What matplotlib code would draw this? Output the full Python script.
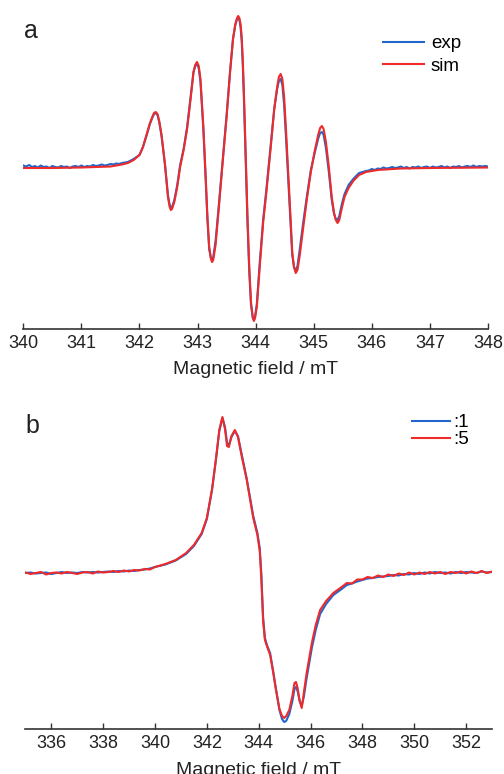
import numpy as np
import matplotlib
matplotlib.use("Agg")
from matplotlib import pyplot as plt

plt.rcParams['font.family'] = ['Liberation Sans', 'DejaVu Sans']

# ---- panel a (signal in arbitrary units, baseline = 0) ----
a_core_field = [341.8, 341.9, 342.0, 342.06, 342.12, 342.18, 342.22, 342.25, 342.28, 342.31,
                342.34, 342.38, 342.44, 342.49, 342.52, 342.54, 342.56, 342.6, 342.65, 342.7,
                342.76, 342.82, 342.88, 342.93, 342.96, 342.99, 343.02, 343.05, 343.1, 343.14,
                343.17, 343.2, 343.23, 343.25, 343.27, 343.31, 343.36, 343.44, 343.5, 343.56,
                343.61, 343.65, 343.68, 343.70, 343.72, 343.74, 343.76, 343.78, 343.80, 343.83,
                343.86, 343.89, 343.92, 343.95, 343.97, 343.99, 344.02, 344.07, 344.13, 344.18,
                344.26, 344.32, 344.37, 344.40, 344.43, 344.46, 344.49, 344.52, 344.56, 344.6,
                344.63, 344.66, 344.69, 344.72, 344.76, 344.82, 344.88, 344.95, 345.02, 345.08,
                345.11, 345.14, 345.17, 345.21, 345.26, 345.31, 345.35, 345.38, 345.41, 345.44,
                345.48, 345.53, 345.6, 345.68, 345.78]
a_sim_core = [4, 7, 12, 20, 32, 44, 50, 54, 55, 53,
              46, 32, 2, -30, -40, -43, -42, -35, -20, 0,
              17, 38, 68, 95, 102, 105, 101, 88, 40, -10,
              -50, -80, -92, -95, -93, -78, -45, 10, 50, 95,
              128, 143, 149, 151, 149, 143, 130, 105, 70, 10,
              -50, -100, -135, -150, -154, -151, -140, -100, -55, -28,
              20, 58, 80, 90, 93, 88, 70, 40, -5, -50,
              -85, -100, -106, -103, -88, -60, -33, -5, 17, 33,
              39, 41, 38, 25, 0, -30, -46, -53, -56, -53,
              -42, -30, -21, -14, -8]
a_exp_core = [5, 8, 12, 20, 31, 43, 49, 53, 54, 52,
              45, 31, 2, -28, -38, -41, -40, -33, -18, 2,
              18, 40, 70, 95, 101, 103, 99, 85, 37, -13,
              -53, -82, -91, -93, -90, -74, -42, 12, 52, 96,
              128, 142, 148, 149, 147, 140, 126, 100, 64, 3,
              -57, -105, -138, -151, -153, -149, -137, -96, -52, -25,
              22, 58, 78, 86, 88, 82, 62, 32, -12, -56,
              -88, -100, -104, -99, -82, -55, -30, -3, 15, 29,
              34, 35, 32, 19, -5, -33, -47, -52, -53, -49,
              -38, -27, -18, -12, -6]
a_sim_left_field = [340.0, 340.5, 341.0, 341.5, 341.7]
a_sim_left = [-1, -1, -0.5, 0.5, 2.5]
a_sim_right_field = [345.9, 346.1, 346.5, 347.0, 348.0]
a_sim_right = [-5, -3, -1.5, -1, -0.5]
# exp baselines, sampled every 0.05 mT
a_exp_left = [1.5, 0.5, 2, 0, 1, -0.5, 1.5, 0, 0.5, -1, 1, 0, -0.5, 1, 0, 0.5, -1, 0.5,
              1, 0, 1.5, 0, 1, 0.5, 2, 1, 1.5, 2.5, 1.5, 2, 3, 2.5, 3.5, 3, 4]
a_exp_right = [-4, -3.5, -2, -3, -1.5, -2, -0.5, -1.5, -1, 0, -1, -0.5, 0.5, -1, 0,
               -1.5, 0, -0.5, 0.5, -1, 0, 0.5, -1, 0.5, -0.5, 0, 1, -0.5, 0.5, -1,
               0.5, 0, 1, -0.5, 0.5, 1, 0, 1.5, 0, 1, 0.5, 1, 0.5]

# ---- panel b ----
b_core_field = [340.0, 340.4, 340.8, 341.2, 341.5, 341.8, 342.0, 342.2, 342.35, 342.48,
                342.6, 342.7, 342.78, 342.85, 342.95, 343.08, 343.2, 343.35, 343.54, 343.79,
                343.95, 344.04, 344.1, 344.17, 344.24, 344.33, 344.44, 344.55, 344.66, 344.8,
                344.9, 344.98, 345.06, 345.18, 345.3, 345.38, 345.44, 345.5, 345.58, 345.66,
                345.74, 345.85, 346.05, 346.2, 346.37, 346.6, 346.88, 347.2]
b5_core = [6, 9, 13, 20, 28, 40, 55, 84, 114, 143,
           156, 144, 127, 126, 137, 143, 136, 116, 93, 55,
           38, 22, -5, -48, -67, -74, -82, -98, -116, -136,
           -143, -145, -143, -137, -123, -110, -109, -115, -128, -135,
           -120, -100, -70, -52, -37, -28, -20, -14]
b1_core = [6, 8.5, 12.5, 19, 27, 39, 54, 83, 113, 142,
           155, 146, 130, 128, 136, 142, 137, 118, 94, 57,
           40, 25, 0, -44, -65, -73, -80, -97, -115, -137,
           -146, -149, -148, -141, -128, -116, -114, -118, -128, -133,
           -124, -105, -75, -57, -41, -31, -22, -16]
# baselines sampled every 0.2 mT
b5_left = [0.5, -1, 0, 1, -1.5, 0, 0.5, -0.5, 1, 0, -1, 0.5, 1, -0.5, 1.5, 0.5, 1, 2,
           1, 2.5, 1.5, 3, 2.5, 4, 3.5]
b1_left = [0, 0.5, -0.5, 0, 0.5, -1, 0, 1, 0, 0.5, 0, 1, 0.5, 1, 0.5, 1, 1.5, 1,
           2, 1.5, 2.5, 2, 3, 3.5, 4.5]
b5_right = [-10, -10.5, -6.5, -6.5, -4, -5, -2.5, -4, -1.5, -3, -0.5, -2, 0.5, -1.5,
            0.5, -1, 1, -0.5, 1, -1, 1, 0, 1.5, -0.5, 1.5, 0, 2, 0, 1.5]
b1_right = [-12, -10.5, -8.5, -7, -5.5, -5, -4, -3.5, -3, -2, -2.5, -1, -1.5, 0, -1,
            0.5, -0.5, 1, 0, 0.5, -0.5, 1, 0, 1, 0.5, 0, 1.5, 0.5, 1]

blue = '#2266cc'
red = '#ee2a2a'

a_sim_x = a_sim_left_field + a_core_field + a_sim_right_field
a_sim_y = a_sim_left + a_sim_core + a_sim_right
a_exp_x = list(np.linspace(340.0, 341.7, len(a_exp_left))) + a_core_field + \
    list(np.linspace(345.9, 348.0, len(a_exp_right)))
a_exp_y = a_exp_left + a_exp_core + a_exp_right

b_left_x = list(np.linspace(335.0, 339.8, len(b5_left)))
b_right_x = list(np.linspace(347.4, 353.0, len(b5_right)))
b_x = b_left_x + b_core_field + b_right_x
b5_y = b5_left + b5_core + b5_right
b1_y = b1_left + b1_core + b1_right

W, H = 504, 774
fig = plt.figure(figsize=(W / 100, H / 100), dpi=100)

ax_a = fig.add_axes([23.3 / W, 1 - 329 / H, (488 - 23.3) / W, (329 - 8) / H])
ax_a.plot(a_exp_x, a_exp_y, color=blue, lw=1.5, label='exp')
ax_a.plot(a_sim_x, a_sim_y, color=red, lw=1.5, label='sim')
ax_a.set_xlim(340, 348)
ax_a.set_ylim(-162, 159)
ax_a.set_xticks(range(340, 349))

ax_b = fig.add_axes([25.4 / W, 1 - 729.3 / H, (492 - 25.4) / W, (729.3 - 400) / H])
ax_b.plot(b_x, b1_y, color=blue, lw=1.5, label=':1')
ax_b.plot(b_x, b5_y, color=red, lw=1.5, label=':5')
ax_b.set_xlim(335, 353)
ax_b.set_ylim(-156.3, 173)
ax_b.set_xticks(range(336, 353, 2))

for ax in (ax_a, ax_b):
    for s in ('left', 'right', 'top'):
        ax.spines[s].set_visible(False)
    ax.spines['bottom'].set_color('#333333')
    ax.spines['bottom'].set_linewidth(1.2)
    ax.set_yticks([])
    ax.tick_params(axis='x', direction='in', length=4, width=1, color='#333333',
                   labelsize=13, labelcolor='#222222', pad=4)
    ax.set_xlabel('Magnetic field / mT', fontsize=14, color='#222222', labelpad=7)
    ax.patch.set_visible(False)

ax_a.legend(loc='upper left', bbox_to_anchor=(383 / W, 1 - 35 / H), bbox_transform=fig.transFigure,
            frameon=False, fontsize=13.5, handlelength=2.2, handletextpad=0.35,
            labelspacing=0.3, borderpad=0, borderaxespad=0)
ax_b.legend(loc='upper left', bbox_to_anchor=(412 / W, 1 - 414 / H), bbox_transform=fig.transFigure,
            frameon=False, fontsize=13.5, handlelength=2.0, handletextpad=0.2,
            labelspacing=0.0, borderpad=0, borderaxespad=0)

fig.text(24 / W, 1 - 31 / H, 'a', fontsize=18, va='center', ha='left', color='#222222')
fig.text(25 / W, 1 - 426 / H, 'b', fontsize=18, va='center', ha='left', color='#222222')

fig.savefig('out.png', dpi=100)
